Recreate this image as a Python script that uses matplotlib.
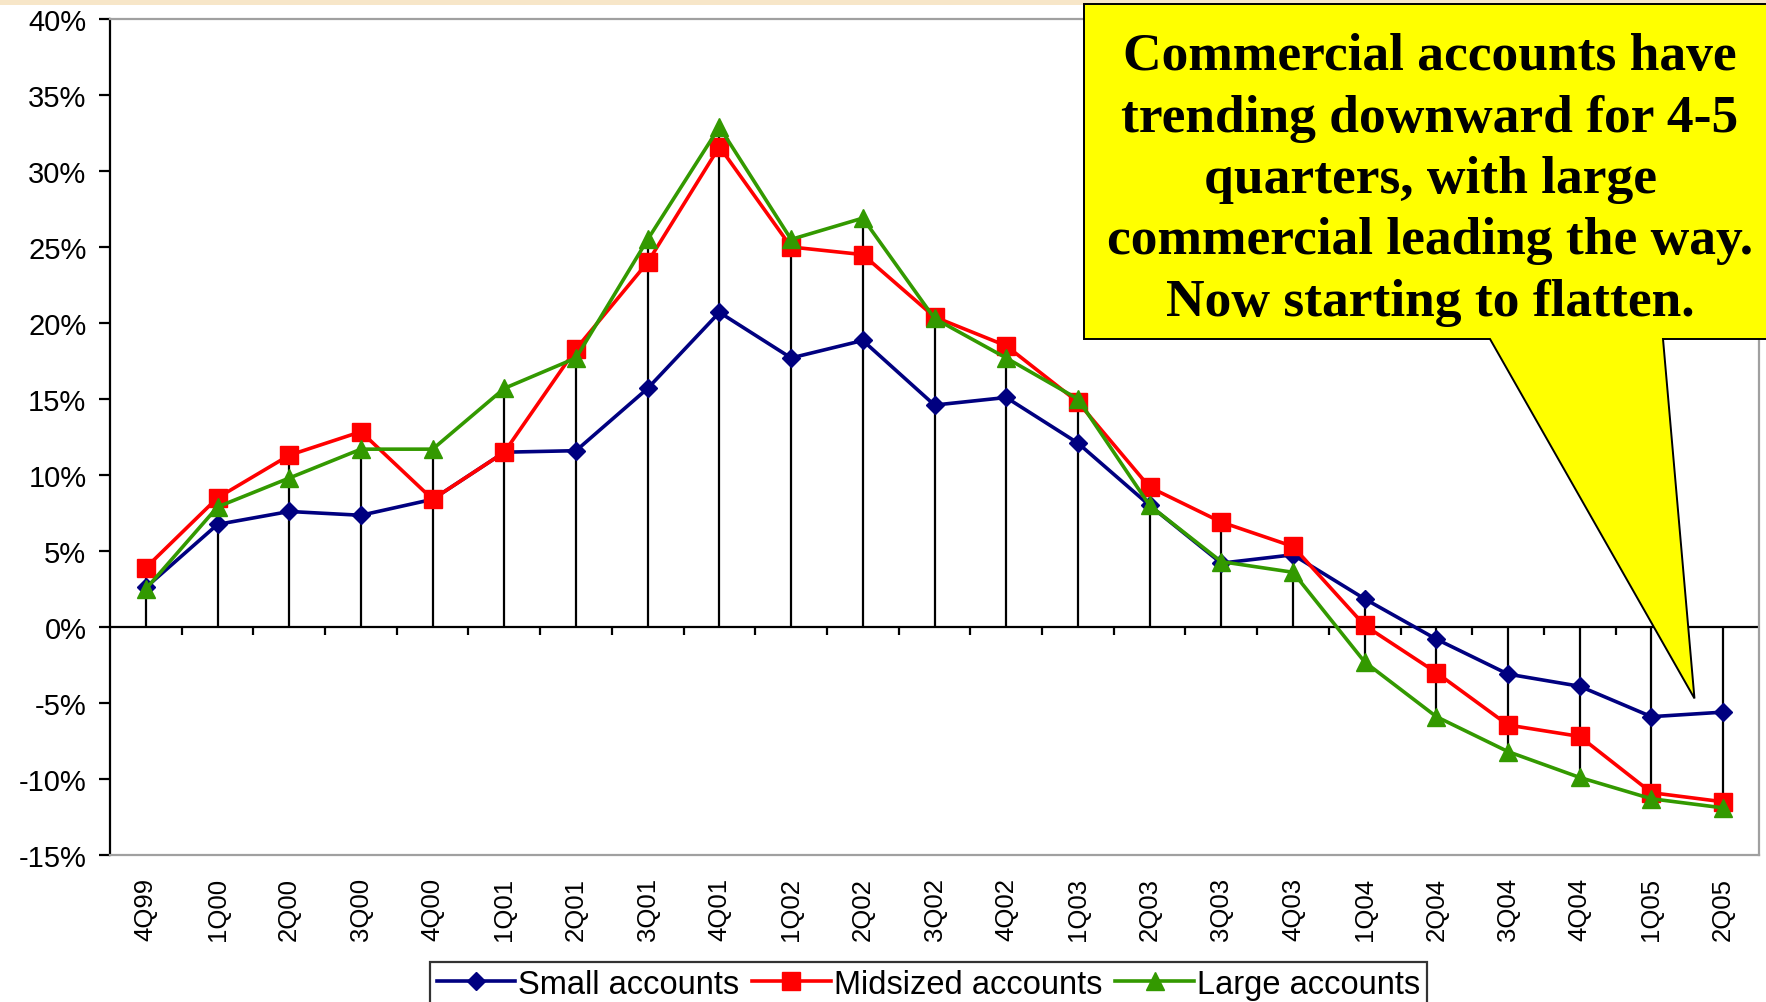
import numpy as np
import matplotlib
matplotlib.use('Agg')
import matplotlib.pyplot as plt
from matplotlib.patches import Polygon, Rectangle

# quarters on the category axis
quarters = ['4Q99', '1Q00', '2Q00', '3Q00', '4Q00', '1Q01', '2Q01', '3Q01', '4Q01',
            '1Q02', '2Q02', '3Q02', '4Q02', '1Q03', '2Q03', '3Q03', '4Q03',
            '1Q04', '2Q04', '3Q04', '4Q04', '1Q05', '2Q05']

# % change
small = [2.6, 6.75, 7.6, 7.35, 8.4, 11.5, 11.6, 15.7, 20.7, 17.7, 18.85, 14.6, 15.1,
         12.1, 8.0, 4.2, 4.75, 1.85, -0.8, -3.1, -3.9, -5.9, -5.6]
midsized = [3.9, 8.5, 11.3, 12.85, 8.4, 11.5, 18.3, 24.0, 31.6, 25.0, 24.5, 20.4, 18.5,
            14.8, 9.2, 6.9, 5.3, 0.1, -3.0, -6.45, -7.2, -10.9, -11.5]
large = [2.5, 7.9, 9.8, 11.7, 11.7, 15.7, 17.7, 25.5, 32.9, 25.5, 26.9, 20.3, 17.7,
         15.0, 8.0, 4.3, 3.6, -2.3, -5.9, -8.2, -9.9, -11.3, -11.9]

yticks = [40, 35, 30, 25, 20, 15, 10, 5, 0, -5, -10, -15]
callout = ('Commercial accounts have\ntrending downward for 4-5\nquarters, with large\n'
           'commercial leading the way.\nNow starting to flatten.')

W, H = 1766, 1003
fig = plt.figure(figsize=(W / 100, H / 100), dpi=100)
fig.patch.set_facecolor('white')
# thin beige strip of the slide background at the very top
fig.patches.append(Rectangle((0, 1 - 6 / H), 1, 6 / H, transform=fig.transFigure,
                             facecolor='#f7e6c8', edgecolor='none'))

ax = fig.add_axes([110 / W, 1 - 856 / H, (1759 - 110) / W, (856 - 20) / H])
x = np.arange(len(quarters))
allv = np.array([small, midsized, large])

# Excel style drop lines
ax.vlines(x, np.minimum(allv.min(axis=0), 0), np.maximum(allv.max(axis=0), 0),
          color='black', lw=1.6, zorder=1)
ax.axhline(0, color='black', lw=1.6, zorder=1)
ax.vlines(x[:-1] + 0.5, -0.5, 0, color='black', lw=1.6, zorder=1)

ax.plot(x, small, color='#000080', lw=2.6, marker='D', ms=9.5, label='Small accounts', zorder=3)
ax.plot(x, midsized, color='#ff0000', lw=2.6, marker='s', ms=13, label='Midsized accounts', zorder=4)
ax.plot(x, large, color='#339900', lw=2.6, marker='^', ms=13.5, label='Large accounts', zorder=5)

ax.set_xlim(-0.5, len(quarters) - 0.5)
ax.set_ylim(-15, 40)
ax.set_yticks(yticks)
ax.set_yticklabels([f'{v}%' for v in yticks], fontsize=21, family='Liberation Sans')
ax.set_xticks(x)
ax.set_xticklabels(quarters, rotation=90, fontsize=18.5, family='Liberation Sans')
ax.tick_params(axis='x', length=0, pad=16)
ax.tick_params(axis='y', length=8, width=1.6, pad=9)
for s in ['top', 'right', 'bottom']:
    ax.spines[s].set_color('#a0a0a0')
    ax.spines[s].set_linewidth(1.6)
ax.spines['left'].set_linewidth(1.6)

leg = fig.legend(loc='upper left', bbox_to_anchor=(430 / W, 1 - 963 / H), ncol=3,
                 prop={'family': 'Liberation Sans', 'size': 23.5}, frameon=True,
                 fancybox=False, edgecolor='black', handlelength=2.4, handletextpad=0.1,
                 columnspacing=0.4, borderpad=0.2, borderaxespad=0)
leg.get_frame().set_linewidth(1.6)

# yellow speech bubble pointing at the last quarters
fig.canvas.draw()
tip = ax.transData.transform((21.6, -4.7))
tx, ty = tip[0], tip[1]
box = [(1084, 5), (1790, 5), (1790, 340), (1663, 340), (tx, H - ty), (1490, 340), (1084, 340)]
pts = [(px / W, 1 - py / H) for px, py in box]
fig.patches.append(Polygon(pts, closed=True, transform=fig.transFigure, facecolor='#ffff00',
                           edgecolor='black', lw=1.4, zorder=10))
fig.text(1430 / W, 1 - 180 / H, callout, ha='center', va='center', fontsize=38.5,
         fontweight='bold', family='Liberation Serif', linespacing=1.36, zorder=11)

fig.savefig('out.png', dpi=100)
